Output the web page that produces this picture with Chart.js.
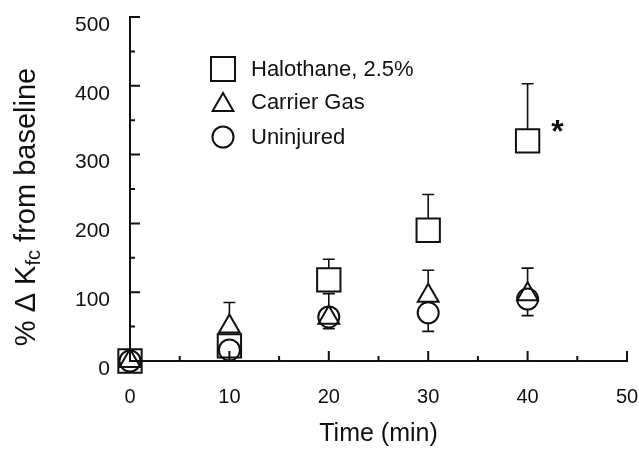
<!DOCTYPE html>
<html>
<head>
<meta charset="utf-8">
<script src="https://cdn.jsdelivr.net/npm/chart.js@4.4.0/dist/chart.umd.min.js"></script>
<style>
  html, body { margin: 0; padding: 0; background: #fff; }
  #wrap { position: relative; width: 639px; height: 451px; }
</style>
</head>
<body>
<div id="wrap"><canvas id="kfcChart"></canvas></div>
<script>
// Values (% change in Kfc vs. time)
var TIMES = [0, 10, 20, 30, 40];
var HALOTHANE = [0, 22, 118, 190, 320];
var HALOTHANE_SEM = [0, 0, 30, 52, 83];
var CARRIER = [0, 50, 63, 95, 97];
var CARRIER_SEM = [0, 35, 35, 37, 38];
var UNINJURED = [0, 16, 64, 70, 90];
var UNINJURED_SEM = [0, 16, 17, 27, 24];
var SERIES_NAMES = ['Halothane, 2.5%', 'Carrier Gas', 'Uninjured'];
var X_TICKS = [0, 10, 20, 30, 40, 50];
var Y_TICKS = [0, 100, 200, 300, 400, 500];
var SIGNIFICANT_AT = 40;

(function () {
  var FONT = '"Liberation Sans", Arial, Helvetica, sans-serif';
  var INK = '#111';

  function pts(ys) {
    return TIMES.map(function (t, i) { return { x: t, y: ys[i] }; });
  }

  // marker outline, same geometry as Chart.js point styles
  function drawMarker(ctx, style, x, y, r) {
    ctx.beginPath();
    if (style === 'rect') {
      var s = Math.SQRT1_2 * r;
      ctx.rect(x - s, y - s, 2 * s, 2 * s);
    } else if (style === 'triangle') {
      ctx.moveTo(x, y - r);
      ctx.lineTo(x + Math.sin(Math.PI * 2 / 3) * r, y + 0.5 * r);
      ctx.lineTo(x - Math.sin(Math.PI * 2 / 3) * r, y + 0.5 * r);
      ctx.closePath();
    } else {
      ctx.arc(x, y, r, 0, Math.PI * 2);
    }
    ctx.stroke();
  }

  // error bars: one-sided, starting at the marker edge
  var errorBarsPlugin = {
    id: 'errorBars',
    afterDatasetsDraw: function (chart) {
      var ctx = chart.ctx;
      var xs = chart.scales.x, ys = chart.scales.y;
      ctx.save();
      ctx.strokeStyle = INK;
      ctx.lineWidth = 1.6;
      chart.data.datasets.forEach(function (ds) {
        ds.data.forEach(function (p, i) {
          var e = ds.sem[i];
          if (!e) { return; }
          var px = xs.getPixelForValue(p.x);
          var py = ys.getPixelForValue(p.y);
          var end = ys.getPixelForValue(p.y + ds.errDir * e);
          var start = py - ds.errDir * ds.edge;
          ctx.beginPath();
          ctx.moveTo(px, start);
          ctx.lineTo(px, end);
          ctx.moveTo(px - 6, end);
          ctx.lineTo(px + 6, end);
          ctx.stroke();
        });
      });
      ctx.restore();
    },
  };

  // inward tick marks, axis title with subscript, legend, asterisk
  var decorPlugin = {
    id: 'decor',
    afterDraw: function (chart) {
      var ctx = chart.ctx;
      var xs = chart.scales.x, ys = chart.scales.y;
      var a = chart.chartArea;
      ctx.save();
      ctx.strokeStyle = INK;
      ctx.lineWidth = 2;
      ctx.beginPath();
      for (var v = 50; v <= 500; v += 50) {
        var y = ys.getPixelForValue(v);
        ctx.moveTo(a.left, y);
        ctx.lineTo(a.left + (v % 100 === 0 ? 10 : 5), y);
      }
      for (var t = 5; t <= 50; t += 5) {
        var x = xs.getPixelForValue(t);
        ctx.moveTo(x, a.bottom);
        ctx.lineTo(x, a.bottom - (t % 10 === 0 ? 10 : 5));
      }
      ctx.stroke();

      // y axis title: % Δ Kfc from baseline
      ctx.fillStyle = INK;
      ctx.save();
      ctx.translate(35, 207);
      ctx.rotate(-Math.PI / 2);
      var parts = [
        { t: '% \u0394 K', f: '29px ' + FONT, dy: 0 },
        { t: 'fc', f: '20px ' + FONT, dy: 5 },
        { t: ' from baseline', f: '29px ' + FONT, dy: 0 },
      ];
      var total = 0;
      parts.forEach(function (p) { ctx.font = p.f; p.w = ctx.measureText(p.t).width; total += p.w; });
      var cx = -total / 2;
      ctx.textBaseline = 'alphabetic';
      parts.forEach(function (p) {
        ctx.font = p.f;
        ctx.fillText(p.t, cx, p.dy);
        cx += p.w;
      });
      ctx.restore();

      // legend
      ctx.lineWidth = 2;
      ctx.font = '22px ' + FONT;
      ctx.textBaseline = 'middle';
      ctx.textAlign = 'left';
      chart.data.datasets.forEach(function (ds, i) {
        var ly = [69, 102, 137][i];
        drawMarker(ctx, ds.pointStyle, 223, ly + (ds.pointStyle === 'triangle' ? 3 : 0), ds.legendR);
        ctx.fillText(ds.label, 251, ly + 1);
      });

      // significance asterisk next to the halothane point
      var hi = TIMES.indexOf(SIGNIFICANT_AT);
      ctx.font = 'bold 32px ' + FONT;
      ctx.textAlign = 'center';
      ctx.fillText('*', xs.getPixelForValue(SIGNIFICANT_AT) + 30, ys.getPixelForValue(HALOTHANE[hi]) - 8);
      ctx.restore();
    },
  };

  var ctx = document.getElementById('kfcChart').getContext('2d');

  new Chart(ctx, {
    type: 'scatter',
    plugins: [errorBarsPlugin, decorPlugin],
    data: {
      datasets: [
        {
          label: SERIES_NAMES[0],
          data: pts(HALOTHANE),
          sem: HALOTHANE_SEM, errDir: 1, edge: 11.7, legendR: 17,
          pointStyle: 'rect', pointRadius: 16.5,
        },
        {
          label: SERIES_NAMES[1],
          data: pts(CARRIER),
          sem: CARRIER_SEM, errDir: 1, edge: 12, legendR: 12,
          pointStyle: 'triangle', pointRadius: 12,
        },
        {
          label: SERIES_NAMES[2],
          data: pts(UNINJURED),
          sem: UNINJURED_SEM, errDir: -1, edge: 10.5, legendR: 10.5,
          pointStyle: 'circle', pointRadius: 10.5,
        },
      ].map(function (d) {
        d.showLine = false;
        d.clip = false;
        d.borderColor = INK;
        d.backgroundColor = 'rgba(0,0,0,0)';
        d.pointBorderWidth = 2;
        d.pointHoverRadius = d.pointRadius;
        return d;
      }),
    },
    options: {
      responsive: true,
      maintainAspectRatio: false,
      animation: false,
      layout: { autoPadding: false, padding: { top: 17, right: 12, left: 0, bottom: 0 } },
      plugins: { legend: { display: false }, tooltip: { enabled: false } },
      scales: {
        x: {
          type: 'linear',
          min: X_TICKS[0],
          max: X_TICKS[X_TICKS.length - 1],
          afterFit: function (s) {
            s.height = 90;
            s.paddingLeft = 0; s.paddingRight = 0;
          },
          afterBuildTicks: function (s) { s.ticks = X_TICKS.map(function (v) { return { value: v }; }); },
          grid: { display: false, drawTicks: false },
          border: { display: true, color: INK, width: 2 },
          ticks: { color: INK, font: { family: FONT, size: 20 }, padding: 24, maxRotation: 0 },
          title: {
            display: true, text: 'Time (min)', color: INK,
            font: { family: FONT, size: 25 }, padding: { top: 0, bottom: 2 },
          },
        },
        y: {
          type: 'linear',
          min: Y_TICKS[0],
          max: Y_TICKS[Y_TICKS.length - 1],
          afterFit: function (s) {
            s.width = 130;
            s.paddingTop = 0; s.paddingBottom = 0;
          },
          afterBuildTicks: function (s) { s.ticks = Y_TICKS.map(function (v) { return { value: v }; }); },
          grid: { display: false, drawTicks: false },
          border: { display: true, color: INK, width: 2 },
          ticks: { color: INK, font: { family: FONT, size: 21 }, padding: 20, labelOffset: 8 },
        },
      },
    },
  });
})();
</script>
</body>
</html>
